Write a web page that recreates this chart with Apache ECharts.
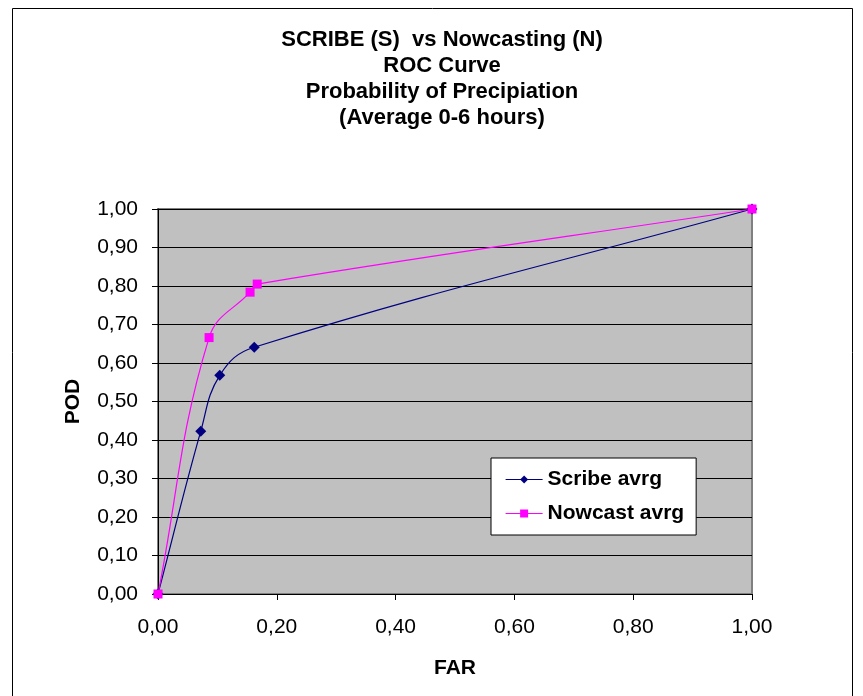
<!DOCTYPE html>
<html>
<head>
<meta charset="utf-8">
<script src="https://cdn.jsdelivr.net/npm/echarts@6/dist/echarts.min.js"></script>
<style>
html, body { margin: 0; padding: 0; background: #fff; }
#chart { width: 863px; height: 696px; }
</style>
</head>
<body>
<div id="chart"></div>
<script>
// ROC points (FAR, POD)
var scribeFar = [0, 0.072, 0.104, 0.162, 1.0];
var scribePod = [0, 0.423, 0.568, 0.641, 1.0];
var nowcastFar = [0, 0.086, 0.155, 0.167, 1.0];
var nowcastPod = [0, 0.666, 0.784, 0.805, 1.0];

function pairs(xs, ys) {
    var res = [];
    for (var i = 0; i < xs.length; i++) {
        res.push([xs[i], ys[i]]);
    }
    return res;
}

function comma(v) {
    return v.toFixed(2).replace('.', ',');
}

function unit(a, b) {
    var dx = b[0] - a[0], dy = b[1] - a[1];
    var d = Math.sqrt(dx * dx + dy * dy) || 1;
    return [dx / d, dy / d];
}

function dist(a, b) {
    return Math.sqrt((b[0] - a[0]) * (b[0] - a[0]) + (b[1] - a[1]) * (b[1] - a[1]));
}

// smoothed line like excel: bezier pieces, tangent from neighbours,
// arm length tied to the piece length so short pieces don't loop
function smoothCurve(xs, ys, color) {
    var k = 0.4;
    return function (params, api) {
        var p = [];
        for (var i = 0; i < xs.length; i++) {
            p.push(api.coord([xs[i], ys[i]]));
        }
        var kids = [];
        for (var j = 0; j < p.length - 1; j++) {
            var p0 = p[Math.max(j - 1, 0)];
            var p1 = p[j];
            var p2 = p[j + 1];
            var p3 = p[Math.min(j + 2, p.length - 1)];
            var t1 = unit(p0, p2);
            var t2 = unit(p1, p3);
            var arm = dist(p1, p2) * k;
            kids.push({
                type: 'bezierCurve',
                shape: {
                    x1: p1[0], y1: p1[1],
                    x2: p2[0], y2: p2[1],
                    cpx1: p1[0] + t1[0] * arm,
                    cpy1: p1[1] + t1[1] * arm,
                    cpx2: p2[0] - t2[0] * arm,
                    cpy2: p2[1] - t2[1] * arm
                },
                style: { stroke: color, fill: 'none', lineWidth: 1.2 }
            });
        }
        return { type: 'group', children: kids };
    };
}

var chartDom = document.getElementById('chart');
var myChart = echarts.init(chartDom);
var font = 'Arial, "Liberation Sans", sans-serif';

var option = {
    animation: false,
    backgroundColor: '#fff',
    textStyle: { fontFamily: font },
    title: {
        left: 437,
        textAlign: 'center',
        top: 22,
        text: 'SCRIBE (S)  vs Nowcasting (N)\nROC Curve\nProbability of Precipiation\n(Average 0-6 hours)',
        textStyle: {
            color: '#000',
            fontFamily: font,
            fontWeight: 'bold',
            fontSize: 22,
            lineHeight: 26
        }
    },
    graphic: [{
        type: 'rect',
        shape: { x: 12.5, y: 8.5, width: 840, height: 690 },
        style: { fill: 'none', stroke: '#000', lineWidth: 1 },
        silent: true
    }],
    grid: {
        left: 158,
        right: 111,
        top: 209,
        bottom: 102,
        show: true,
        backgroundColor: '#c0c0c0',
        borderColor: '#808080',
        borderWidth: 2
    },
    legend: {
        left: 491,
        top: 458,
        width: 204,
        orient: 'vertical',
        backgroundColor: '#fff',
        borderColor: '#000',
        borderWidth: 1,
        padding: [11, 12, 11, 14],
        itemGap: 13,
        itemWidth: 37,
        itemHeight: 10,
        textStyle: {
            color: '#000',
            fontFamily: font,
            fontWeight: 'bold',
            fontSize: 21
        },
        data: [
            { name: 'Scribe avrg', lineStyle: { opacity: 1, width: 1.2, color: '#000080' } },
            { name: 'Nowcast avrg', lineStyle: { opacity: 1, width: 1.2, color: '#ff00ff' } }
        ]
    },
    xAxis: {
        type: 'value',
        min: 0,
        max: 1,
        interval: 0.2,
        name: 'FAR',
        nameLocation: 'middle',
        nameGap: 64,
        nameTextStyle: { color: '#000', fontWeight: 'bold', fontSize: 21, fontFamily: font },
        axisLine: { show: true, onZero: false, lineStyle: { color: '#000', width: 1 } },
        axisTick: { show: true, inside: false, length: 6, lineStyle: { color: '#000' } },
        axisLabel: { color: '#000', fontSize: 21, margin: 23, fontFamily: font, formatter: comma },
        splitLine: { show: false }
    },
    yAxis: {
        type: 'value',
        min: 0,
        max: 1,
        interval: 0.1,
        name: 'POD',
        nameLocation: 'middle',
        nameGap: 74,
        nameRotate: 90,
        nameTextStyle: { color: '#000', fontWeight: 'bold', fontSize: 21, fontFamily: font },
        axisLine: { show: true, onZero: false, lineStyle: { color: '#000', width: 1 } },
        axisTick: { show: true, inside: false, length: 6, lineStyle: { color: '#000' } },
        axisLabel: { color: '#000', fontSize: 21, margin: 20, fontFamily: font, formatter: comma },
        splitLine: { show: true, lineStyle: { color: '#000', width: 1 } }
    },
    series: [
        {
            name: 'Scribe curve',
            type: 'custom',
            silent: true,
            z: 1,
            data: [[0, 0]],
            renderItem: smoothCurve(scribeFar, scribePod, '#000080')
        },
        {
            name: 'Nowcast curve',
            type: 'custom',
            silent: true,
            z: 1,
            data: [[0, 0]],
            renderItem: smoothCurve(nowcastFar, nowcastPod, '#ff00ff')
        },
        {
            name: 'Scribe avrg',
            type: 'line',
            z: 3,
            data: pairs(scribeFar, scribePod),
            symbol: 'diamond',
            symbolSize: 11,
            itemStyle: { color: '#000080' },
            lineStyle: { color: '#000080', width: 1.2, opacity: 0 }
        },
        {
            name: 'Nowcast avrg',
            type: 'line',
            z: 3,
            data: pairs(nowcastFar, nowcastPod),
            symbol: 'rect',
            symbolSize: 9,
            itemStyle: { color: '#ff00ff' },
            lineStyle: { color: '#ff00ff', width: 1.2, opacity: 0 }
        }
    ]
};

option && myChart.setOption(option);
</script>
</body>
</html>
